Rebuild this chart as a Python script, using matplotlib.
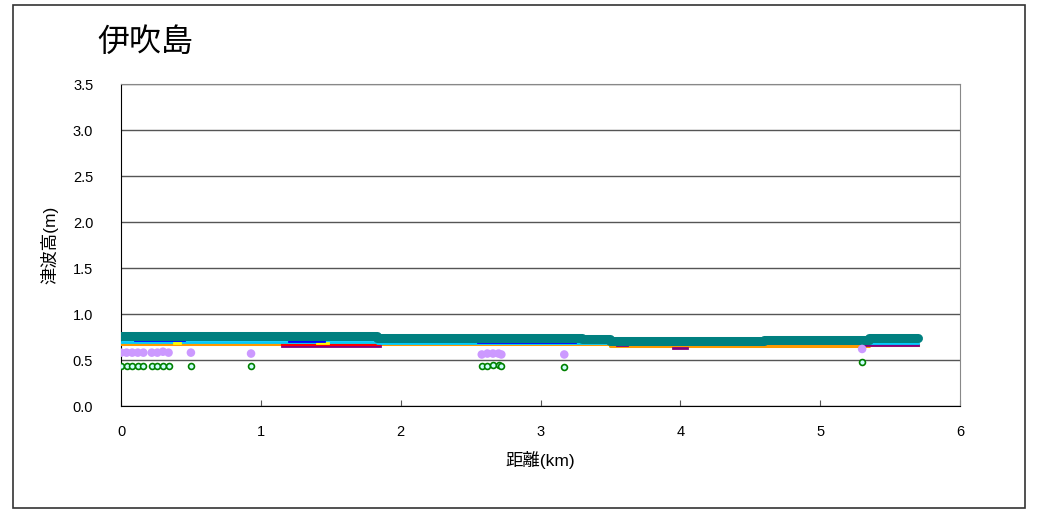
import matplotlib
matplotlib.use("Agg")
import matplotlib.pyplot as plt
from matplotlib.patches import Rectangle

plt.rcParams['font.family'] = ['Liberation Sans', 'Noto Sans CJK JP', 'DejaVu Sans']

title = "伊吹島"
xlabel = "距離(km)"
ylabel = "津波高(m)"
xticks = [0, 1, 2, 3, 4, 5, 6]
yticks = [0.0, 0.5, 1.0, 1.5, 2.0, 2.5, 3.0, 3.5]

# step-wise line series (breakpoints, km / m)
teal_x = [0.0, 1.83, 3.30, 3.50, 4.60, 5.35, 5.70]
teal_y = [0.76, 0.74, 0.73, 0.71, 0.72, 0.74, 0.74]

orange_x = [0.0, 1.83, 3.50, 4.90, 5.35, 5.70]
orange_y = [0.67, 0.67, 0.65, 0.65, 0.66, 0.66]

cyan_x = [0.0, 1.83, 3.30, 3.50, 4.60, 5.35, 5.70]
cyan_y = [0.70, 0.69, 0.69, 0.68, 0.69, 0.69, 0.69]

blue_segs = [([0.10, 0.45], [0.72, 0.72]), ([1.20, 1.45], [0.71, 0.71]),
             ([2.55, 3.25], [0.70, 0.70]), ([5.35, 5.60], [0.71, 0.71])]
purple_segs = [([1.15, 1.85], [0.655, 0.655]), ([3.55, 3.62], [0.66, 0.66]),
               ([3.95, 4.05], [0.63, 0.63]), ([5.30, 5.70], [0.665, 0.665])]
red_segs = [([3.22, 3.32], [0.685, 0.685]), ([1.15, 1.85], [0.665, 0.665])]
yellow_segs = [([0.38, 0.42], [0.69, 0.69]), ([1.40, 1.48], [0.69, 0.69])]

# point series
violet_x = [0.0, 0.04, 0.08, 0.12, 0.16, 0.22, 0.26, 0.30, 0.34, 0.50, 0.93,
            2.58, 2.62, 2.66, 2.70, 2.72, 3.17, 5.30]
violet_y = [0.58, 0.58, 0.58, 0.58, 0.58, 0.58, 0.58, 0.59, 0.58, 0.58, 0.57,
            0.56, 0.57, 0.57, 0.57, 0.56, 0.56, 0.62]
green_x = [0.0, 0.04, 0.08, 0.12, 0.16, 0.22, 0.26, 0.30, 0.34, 0.50, 0.93,
           2.58, 2.62, 2.66, 2.70, 2.72, 3.17, 5.30]
green_y = [0.43, 0.43, 0.43, 0.43, 0.43, 0.43, 0.43, 0.44, 0.44, 0.43, 0.43,
           0.43, 0.44, 0.45, 0.45, 0.44, 0.42, 0.48]

fig = plt.figure(figsize=(10.37, 5.12), dpi=100)
fig.patches.append(Rectangle((13/1037, 1-508/512), (1025-13)/1037, (508-5)/512,
                             transform=fig.transFigure, fill=False,
                             edgecolor='#333333', linewidth=1.2))
ax = fig.add_axes([121/1037, 1-406/512, (960-121)/1037, (406-84)/512])

ax.set_xlim(0, 6)
ax.set_ylim(0, 3.5)
ax.set_xticks(xticks)
ax.set_yticks(yticks)
ax.set_yticklabels([f"{v:.1f}" for v in yticks], fontsize=10.5)
ax.set_xticklabels([str(v) for v in xticks], fontsize=10.5)
ax.tick_params(axis='x', direction='in', length=4, pad=14, color='#555555')
ax.tick_params(axis='y', length=0, pad=20)
ax.grid(axis='y', color='#555555', linewidth=1)
ax.set_axisbelow(True)
for s in ['left', 'bottom']:
    ax.spines[s].set_color('black')
for s in ['right', 'top']:
    ax.spines[s].set_color('#888888')

ax.plot(orange_x, orange_y, drawstyle='steps-post', color='#ff9900', lw=2.2, zorder=3)
for sx, sy in purple_segs:
    ax.plot(sx, sy, color='#800080', lw=2, zorder=3)
for sx, sy in red_segs:
    ax.plot(sx, sy, color='#ff0000', lw=1.5, zorder=3)
ax.plot(cyan_x, cyan_y, drawstyle='steps-post', color='#00ccff', lw=2, zorder=4)
for sx, sy in yellow_segs:
    ax.plot(sx, sy, color='#ffff00', lw=2, zorder=4)
for sx, sy in blue_segs:
    ax.plot(sx, sy, color='#0000ff', lw=2, zorder=4)
ax.plot(teal_x, teal_y, drawstyle='steps-post', color='#008080', lw=6.5,
        solid_capstyle='round', zorder=5)

ax.scatter(violet_x, violet_y, s=38, color='#cc99ff', edgecolors='none', zorder=6)
ax.scatter(green_x, green_y, s=18, facecolor='#ccffff', edgecolors='#008000',
           linewidths=1.2, zorder=6)

ax.set_xlabel(xlabel, fontsize=12.5, labelpad=8)
ax.set_ylabel(ylabel, fontsize=12.5, labelpad=10)
fig.text(145/1037, 1-43/512, title, fontsize=23, ha='center', va='center')

fig.savefig("out.png", dpi=100)
